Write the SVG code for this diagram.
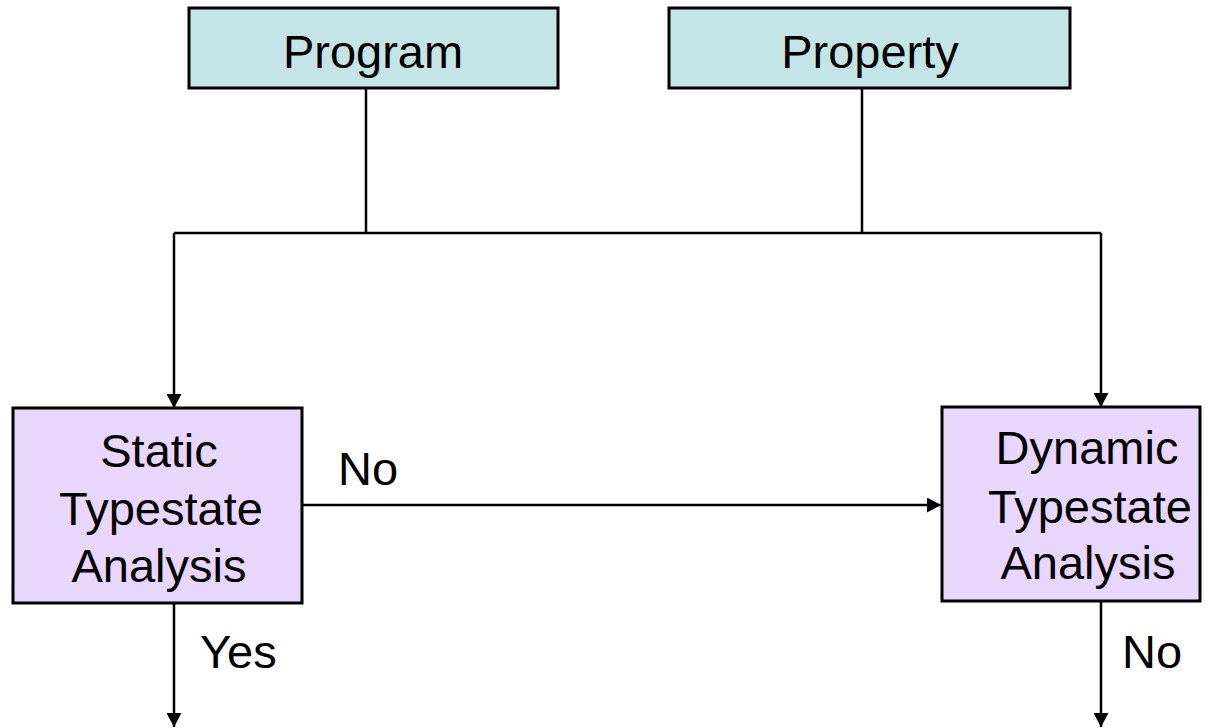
<svg xmlns="http://www.w3.org/2000/svg" width="1214" height="728" viewBox="0 0 1214 728">
  <style>
    .input { fill: #C4E5E8; stroke: #000; stroke-width: 3; }
    .analysis { fill: #E8D6FC; stroke: #000; stroke-width: 3; }
    .label { font-family: "Liberation Sans", Arial, sans-serif; font-size: 47px; fill: #000; }
    .mid { text-anchor: middle; }
    .wire { fill: none; stroke: #000; stroke-width: 2.5; }
  </style>
  <defs>
    <marker id="arrow" viewBox="0 0 14 15" refX="14" refY="7.5" markerWidth="14" markerHeight="15" markerUnits="userSpaceOnUse" orient="auto">
      <path d="M0,0 L14,7.5 L0,15 Z" fill="#000"/>
    </marker>
  </defs>
  <rect width="1214" height="728" fill="#fff"/>

  <g id="connectors">
    <!-- inputs merge onto a shared bus -->
    <line class="wire" x1="366" y1="88" x2="366" y2="233"/>
    <line class="wire" x1="862" y1="88" x2="862" y2="233"/>
    <line class="wire" x1="174" y1="233" x2="1101" y2="233"/>
    <line class="wire" x1="174" y1="233" x2="174" y2="408" marker-end="url(#arrow)"/>
    <line class="wire" x1="1101" y1="233" x2="1101" y2="407" marker-end="url(#arrow)"/>
    <!-- static -> dynamic -->
    <line class="wire" x1="302" y1="505" x2="941" y2="505" marker-end="url(#arrow)"/>
    <text class="label" x="338" y="485">No</text>
    <!-- outcomes -->
    <line class="wire" x1="174" y1="603" x2="174" y2="727" marker-end="url(#arrow)"/>
    <text class="label" x="200" y="668">Yes</text>
    <line class="wire" x1="1101" y1="601" x2="1101" y2="727" marker-end="url(#arrow)"/>
    <text class="label" x="1122" y="668">No</text>
  </g>

  <g id="program">
    <rect class="input" x="189" y="8" width="369" height="80"/>
    <text class="label mid" x="373" y="68">Program</text>
  </g>

  <g id="property">
    <rect class="input" x="669" y="8" width="401" height="80"/>
    <text class="label mid" x="870" y="68">Property</text>
  </g>

  <g id="static-analysis">
    <rect class="analysis" x="13" y="408" width="289" height="195"/>
    <text class="label mid" x="159" y="467">Static</text>
    <text class="label mid" x="161" y="525">Typestate</text>
    <text class="label mid" x="159" y="582">Analysis</text>
  </g>

  <g id="dynamic-analysis">
    <rect class="analysis" x="942" y="407" width="258" height="194"/>
    <text class="label mid" x="1087" y="464">Dynamic</text>
    <text class="label mid" x="1090" y="523">Typestate</text>
    <text class="label mid" x="1088" y="579">Analysis</text>
  </g>
</svg>
